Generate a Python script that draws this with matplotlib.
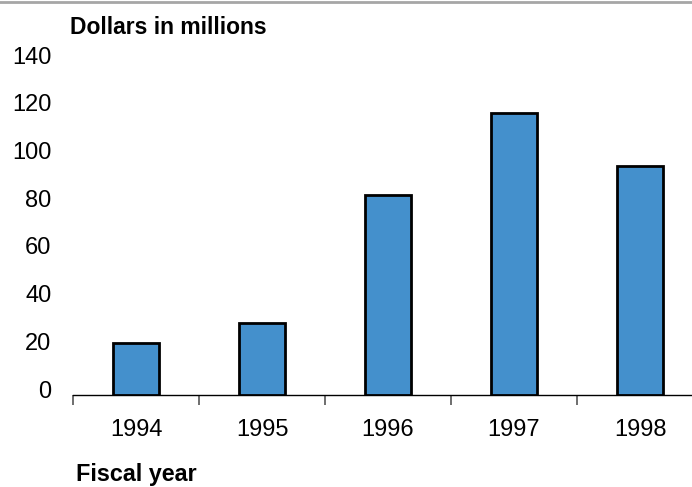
import matplotlib.pyplot as plt
import matplotlib.transforms as mtransforms
import numpy as np

plt.rcParams['font.family'] = ['Liberation Sans', 'DejaVu Sans']

# Data
years = ['1994', '1995', '1996', '1997', '1998']
dollars = [22, 30, 84, 118, 96]
y_ticks = [0, 20, 40, 60, 80, 100, 120, 140]

bar_color = '#4490CC'

fig = plt.figure(figsize=(6.92, 4.87), dpi=100)
ax = fig.add_axes([73 / 692, 92 / 487, 630 / 692, 334 / 487])

x = np.arange(len(years))
ax.bar(x, dollars, width=0.365, color=bar_color, edgecolor='black', linewidth=2.0, zorder=3)

ax.set_xlim(-0.5, 4.5)
ax.set_ylim(0, 140)

# spines: only the bottom axis line
for side in ['top', 'right', 'left']:
    ax.spines[side].set_visible(False)
ax.spines['bottom'].set_linewidth(1.0)

# y ticks: labels only, nudged up a little like the source
ax.set_yticks(y_ticks)
ax.set_yticklabels([str(v) for v in y_ticks], fontsize=17)
ax.tick_params(axis='y', length=0, pad=15.5)
offset = mtransforms.ScaledTranslation(0, 6 / 100, fig.dpi_scale_trans)
for lbl in ax.get_yticklabels():
    lbl.set_transform(lbl.get_transform() + offset)

# x ticks: labels at bar centres, tick marks at category boundaries
ax.set_xticks(x)
ax.set_xticklabels(years, fontsize=17)
ax.tick_params(axis='x', which='major', length=0, pad=17)
ax.set_xticks(np.arange(-0.5, 5.0, 1.0), minor=True)
ax.tick_params(axis='x', which='minor', length=7, width=1.2, color='#555555', direction='out')

# titles
fig.text(70 / 692, 1 - 27 / 487, 'Dollars in millions', fontsize=16.5, fontweight='bold',
         ha='left', va='center')
fig.text(76 / 692, 1 - 481 / 487, 'Fiscal year', fontsize=16.8, fontweight='bold',
         ha='left', va='baseline')

# grey rule along the top edge
fig.add_artist(plt.Line2D([0, 1], [1 - 1.5 / 487, 1 - 1.5 / 487], color='#a6a6a6',
                          linewidth=2, transform=fig.transFigure))

fig.savefig('out.png', dpi=100)
